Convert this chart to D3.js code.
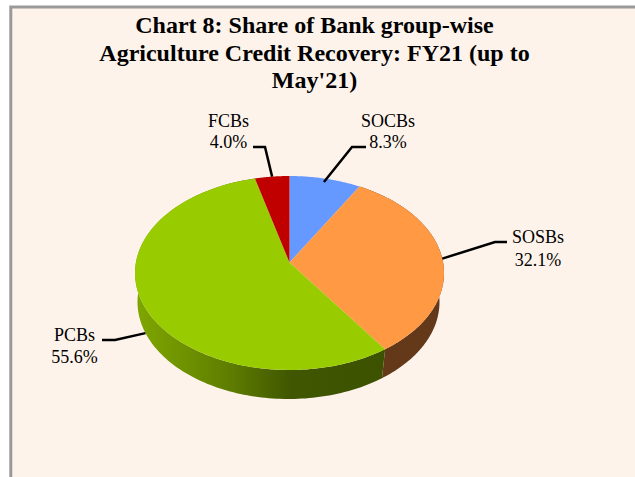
<!DOCTYPE html>
<html><head><meta charset="utf-8">
<script src="https://cdn.jsdelivr.net/npm/d3@7"></script>
<style>html,body{margin:0;padding:0;background:#fff}svg{display:block}</style>
</head><body><div id="c"></div>
<script>
const categories = ["SOCBs","SOSBs","PCBs","FCBs"];
const shares = [8.3,32.1,55.6,4.0];
const titleLines = ["Chart 8: Share of Bank group-wise","Agriculture Credit Recovery: FY21 (up to","May'21)"];

const topColors = ["#6699ff","#ff9944","#99cc00","#c00000"];
const W=635,H=477;
const svg=d3.select("#c").append("svg").attr("width",W).attr("height",H);
const defs=svg.append("defs");
const g=defs.append("linearGradient").attr("id","sideGreen").attr("gradientUnits","userSpaceOnUse")
  .attr("x1",138).attr("x2",385).attr("y1",0).attr("y2",0);
[[0,"#7ea500"],[0.15,"#729600"],[0.38,"#5d7c00"],[0.62,"#405600"],[1,"#3d5200"]]
  .forEach(s=>g.append("stop").attr("offset",s[0]).attr("stop-color",s[1]));

svg.append("rect").attr("x",0).attr("y",0).attr("width",W).attr("height",H).attr("fill","#fff");
svg.append("rect").attr("x",10.8).attr("y",7).attr("width",W).attr("height",H).attr("fill","#fef3eb")
  .attr("stroke","#999").attr("stroke-width",3);

titleLines.forEach((t,i)=>svg.append("text").attr("x",314.5).attr("y",33+i*27.5)
  .attr("text-anchor","middle").attr("font-family","Liberation Serif").attr("font-weight","bold")
  .attr("font-size",24).attr("fill","#000").text(t));

// perspective projection of a disc onto the page
const K=0.108;
function proj(cx,cy,rx,ry,k){
  const A=rx*Math.sqrt(1-k*k), C=-ry*k;
  return a=>{const u=Math.sin(a),v=-Math.cos(a),w=1-k*v;return [cx+A*u/w,cy+(ry*v+C)/w];};
}
const topP=proj(289.5,273,154.5,97,K);
const botP=proj(288.5,302,151,97,K);
const apex=[289.5,273-97*K];
const pie=d3.pie().sort(null)(shares);
const line=d3.line();
const samples=(a0,a1,n=80)=>d3.range(n+1).map(i=>a0+(a1-a0)*i/n);

// side wall
const sideFill=["none","#63391a","url(#sideGreen)","none"];
[1,2].forEach(i=>{
  const a0=pie[i].startAngle,a1=pie[i].endAngle;
  const s=samples(a0,a1,160);
  const pts=s.map(topP).concat(s.slice().reverse().map(botP));
  svg.append("path").attr("d",line(pts)+"Z").attr("fill",sideFill[i]);
});
// top faces
pie.forEach((d,i)=>{
  const pts=[apex].concat(samples(d.startAngle,d.endAngle).map(topP));
  svg.append("path").attr("d",line(pts)+"Z").attr("fill",topColors[i]);
});

// leader lines and labels
const labelLayout=[
 {onto:topP, anchor:.96, elbow:[352,147], end:[366,147], tx:388, ty:[127,148]},
 {onto:topP, anchor:1, elbow:[495,242], end:[507,242], tx:538, ty:[243,265.5]},
 {onto:botP, anchor:1, elbow:[115,340], end:[102,340], tx:74.5, ty:[340.5,362.5]},
 {onto:topP, anchor:1, elbow:[265,147], end:[253,147], tx:228.5, ty:[127,148]}
];
pie.forEach((d,i)=>{
  const L=labelLayout[i], mid=(d.startAngle+d.endAngle)/2;
  const p=L.onto(mid);
  const st=[apex[0]+(p[0]-apex[0])*L.anchor,apex[1]+(p[1]-apex[1])*L.anchor];
  svg.append("path").attr("d",line([st,L.elbow,L.end])).attr("fill","none").attr("stroke","#000").attr("stroke-width",2.5);
  [categories[i],d3.format(".1f")(shares[i])+"%"].forEach((t,j)=>
    svg.append("text").attr("x",L.tx).attr("y",L.ty[j]).attr("text-anchor","middle")
     .attr("font-family","Liberation Serif").attr("font-size",18).attr("fill","#000").text(t));
});
</script></body></html>
